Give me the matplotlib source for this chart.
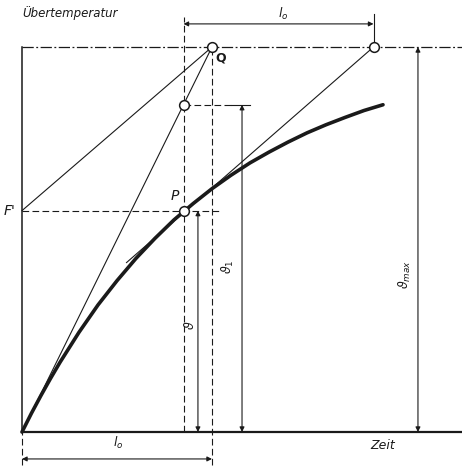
import matplotlib
matplotlib.use("Agg")
import matplotlib.pyplot as plt

# heating curve (time in units of l_o, temperature in units of theta_max)
t_curve = [0.0, 0.05, 0.1, 0.15, 0.2, 0.3, 0.4, 0.5, 0.6, 0.7, 0.8, 0.9, 1.0,
           1.1, 1.2, 1.3, 1.4, 1.5, 1.6, 1.7, 1.8, 1.9]
theta_curve = [0.0, 0.049, 0.095, 0.139, 0.181, 0.259, 0.330, 0.393, 0.451, 0.503,
               0.551, 0.593, 0.632, 0.667, 0.699, 0.727, 0.753, 0.777, 0.798,
               0.817, 0.835, 0.850]

T = 1.0            # l_o
theta_max = 1.0
t_P = 0.85
theta_P = 0.575
theta_1 = 0.85
t_tan_start = 0.55
theta_tan_start = 0.44

ink = "#1a1a1a"

fig = plt.figure(figsize=(4.62, 4.70), dpi=100)
ax = fig.add_axes([0, 0, 1, 1])
ax.set_xlim(-22 / 190, 440 / 190)
ax.set_ylim(-38 / 385, 432 / 385)
ax.axis("off")

# frame: axis, base line, dash-dot limit line
ax.plot([0, 0], [0, theta_max], color=ink, lw=1.1)
ax.plot([0, 2.32], [0, 0], color=ink, lw=1.6)
ax.plot([0, 2.32], [theta_max, theta_max], color=ink, lw=0.9, linestyle=(0, (9, 2, 1.5, 2)))

# heating curve
ax.plot(t_curve, theta_curve, color=ink, lw=2.6, solid_capstyle="round", solid_joinstyle="round")

# construction lines
ax.plot([0, T], [0, theta_max], color=ink, lw=0.8)
ax.plot([0, T], [theta_P, theta_max], color=ink, lw=0.8)
ax.plot([t_tan_start, t_P + T], [theta_tan_start, theta_max], color=ink, lw=0.8)

# dashed helper lines
dash = (0, (6, 3))
ax.plot([t_P, t_P], [0, 1.078], color=ink, lw=0.8, linestyle=dash)
ax.plot([T, T], [-0.086, theta_max], color=ink, lw=0.8, linestyle=dash)
ax.plot([0, 0], [-0.086, 0], color=ink, lw=0.8, linestyle=dash)
ax.plot([0, 1.05], [theta_P, theta_P], color=ink, lw=0.8, linestyle=dash)
ax.plot([t_P, 1.10], [theta_1, theta_1], color=ink, lw=0.8, linestyle=dash)
ax.plot([1.10, 1.20], [theta_1, theta_1], color=ink, lw=0.8)
ax.plot([t_P + T, t_P + T], [theta_max, 1.085], color=ink, lw=0.8)

# dimension arrows
arrow = dict(arrowstyle="<|-|>", color=ink, lw=0.8, mutation_scale=7, shrinkA=0, shrinkB=0)
ax.annotate("", xy=(0.926, 0), xytext=(0.926, theta_P), arrowprops=arrow)
ax.annotate("", xy=(1.158, 0), xytext=(1.158, theta_1), arrowprops=arrow)
ax.annotate("", xy=(2.084, 0), xytext=(2.084, theta_max), arrowprops=arrow)
ax.annotate("", xy=(t_P, 1.06), xytext=(t_P + T, 1.06), arrowprops=arrow)
ax.annotate("", xy=(0, -0.07), xytext=(T, -0.07), arrowprops=arrow)

# points
pts_t = [T, t_P + T, t_P, t_P]
pts_theta = [theta_max, theta_max, theta_1, theta_P]
ax.plot(pts_t, pts_theta, "o", ms=7, mfc="white", mec=ink, mew=1.1, zorder=5)

# labels
ax.text(0.0, 1.088, "Übertemperatur", fontsize=8.5, style="italic", color=ink, ha="left", va="center")
ax.text(1.047, 0.971, "Q", fontsize=9, fontweight="bold", color=ink, ha="center", va="center")
ax.text(0.805, 0.613, "P", fontsize=10, style="italic", color=ink, ha="center", va="center")
ax.text(-0.063, 0.574, "F'", fontsize=10, style="italic", color=ink, ha="center", va="center")
ax.text(1.9, -0.034, "Zeit", fontsize=9, style="italic", color=ink, ha="center", va="center")
ax.text(1.374, 1.086, "$l_o$", fontsize=9, color=ink, ha="center", va="center")
ax.text(0.505, -0.029, "$l_o$", fontsize=9, color=ink, ha="center", va="center")
ax.text(0.884, 0.278, r"$\vartheta$", fontsize=9, color=ink, ha="center", va="center", rotation=90)
ax.text(1.084, 0.429, r"$\vartheta_1$", fontsize=9, color=ink, ha="center", va="center", rotation=90)
ax.text(2.016, 0.408, r"$\vartheta_{max}$", fontsize=9, color=ink, ha="center", va="center", rotation=90)

fig.savefig("out.png", dpi=100, facecolor="white")
